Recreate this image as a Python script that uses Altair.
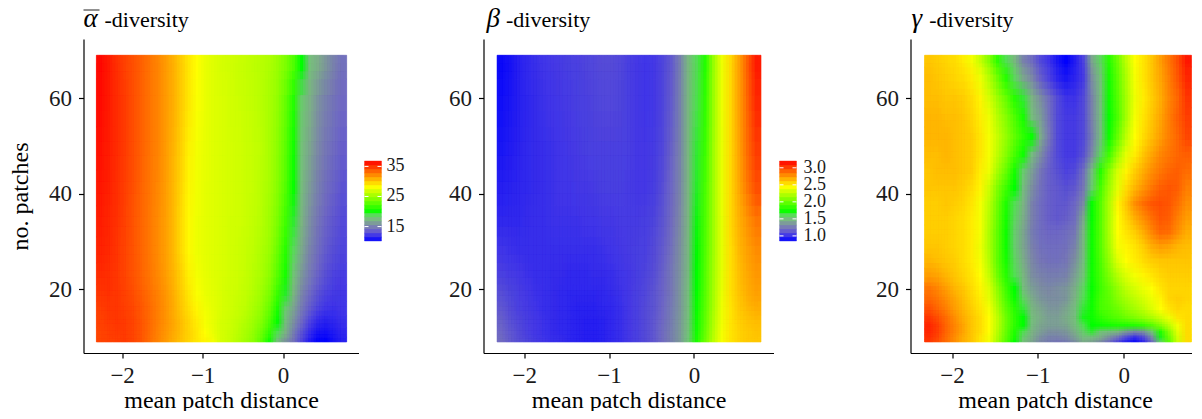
import altair as alt
import numpy as np
import pandas as pd

X_CENTERS = [-2.27,-2.17,-2.07,-1.97,-1.87,-1.77,-1.67,-1.57,-1.47,-1.37,-1.27,-1.17,-1.07,-0.97,-0.87,-0.77,-0.67,-0.57,-0.47,-0.37,-0.27,-0.17,-0.07,0.03,0.13,0.23,0.33,0.43,0.53,0.63,0.73]
N_AB = [9,11,13,16,19,23,28,34,41,49,59,69]
ALPHA = [
[34.5,34.6,34.7,34.8,34.5,34,33.2,32.4,31.7,31,30.3,29.6,29,28.5,28,27,26.6,26,25.3,24.5,23,20.5,18,16,14.5,12.8,11.3,10.4,10.3,10.9,11.4],
[34.5,34.7,34.8,34.8,34.5,34,33.3,32.5,31.8,31.1,30.4,29.7,29,28.3,27.7,27,26.6,26.1,25.5,24.7,23.5,21.5,19,17,15,13.2,11.8,10.9,10.8,11.2,11.6],
[34.6,34.8,34.9,34.8,34.5,34,33.3,32.6,31.9,31.2,30.4,29.6,28.8,28.1,27.6,27,26.7,26.3,25.8,25.1,24.2,22.5,20,17.7,15.8,14,12.6,11.7,11.4,11.6,11.9],
[34.7,34.9,34.9,34.7,34.4,33.9,33.3,32.6,31.9,31.1,30.2,29.3,28.5,27.9,27.5,27.1,26.8,26.5,26.1,25.5,24.7,23.3,20.8,18.4,16.5,14.8,13.5,12.6,12.1,12,12.1],
[35,35.1,34.9,34.6,34.2,33.7,33.1,32.5,31.8,31,30,29,28.2,27.7,27.4,27.1,26.8,26.6,26.3,25.8,25.1,24,21.8,19.4,17.3,15.4,14.1,13.2,12.6,12.3,12.2],
[35.3,35.2,34.9,34.5,34,33.5,32.9,32.3,31.6,30.8,29.8,28.7,28,27.6,27.3,27.1,26.9,26.7,26.4,26,25.5,24.6,22.8,20.6,18.2,16.1,14.8,13.8,13.1,12.6,12.4],
[35.6,35.4,35,34.5,34,33.4,32.8,32.2,31.5,30.6,29.5,28.4,27.8,27.5,27.3,27.1,26.9,26.7,26.5,26.2,25.7,25,23.4,21.2,18.8,16.7,15.3,14.3,13.5,13,12.7],
[35.8,35.5,35.1,34.6,34,33.4,32.8,32.2,31.5,30.6,29.5,28.4,27.8,27.5,27.3,27.1,26.9,26.8,26.6,26.3,25.9,25.2,23.9,22,19.3,17.2,15.7,14.6,13.8,13.3,12.9],
[36,35.7,35.2,34.7,34.1,33.5,32.9,32.3,31.6,30.7,29.6,28.5,27.9,27.5,27.3,27.1,27,26.8,26.6,26.4,26,25.4,24.3,22.6,20.1,17.7,16.2,15.1,14.3,13.7,13.2],
[36.2,35.8,35.3,34.8,34.2,33.6,33,32.4,31.7,30.8,29.8,28.7,28,27.6,27.3,27.1,27,26.8,26.6,26.4,26.1,25.5,24.5,22.9,20.5,18.1,16.6,15.5,14.7,14.1,13.6],
[36.4,35.9,35.3,34.8,34.2,33.6,33,32.4,31.7,31,30,29,28.2,27.7,27.3,27.1,26.9,26.7,26.5,26.3,26,25.5,24.7,23.2,21,18.4,17,15.9,15.1,14.5,14],
[36.5,35.9,35.2,34.6,34.1,33.6,33,32.4,31.7,30.9,30,29,28.3,27.7,27.3,27,26.8,26.6,26.4,26.2,26,25.7,25,24,22.5,19.8,18,16.9,16,15.2,14.4],
]
BETA = [
[1.2,1.14,1.10,1.07,1.04,1.02,1.0,.99,.97,.96,.95,.95,.96,.98,1.0,1.03,1.06,1.09,1.13,1.2,1.28,1.37,1.56,1.78,2.02,2.25,2.43,2.52,2.57,2.6,2.61],
[1.18,1.13,1.09,1.06,1.03,1.01,.99,.98,.97,.96,.95,.95,.96,.98,1.0,1.03,1.06,1.09,1.13,1.2,1.28,1.37,1.55,1.76,2.0,2.24,2.42,2.52,2.57,2.6,2.62],
[1.16,1.11,1.08,1.05,1.03,1.01,.99,.98,.97,.96,.95,.95,.96,.98,1.0,1.03,1.06,1.09,1.13,1.19,1.27,1.37,1.54,1.75,1.98,2.22,2.41,2.52,2.58,2.62,2.64],
[1.13,1.09,1.06,1.04,1.02,1.0,.99,.98,.97,.96,.96,.96,.97,.98,1.0,1.03,1.06,1.09,1.12,1.18,1.26,1.36,1.53,1.73,1.96,2.2,2.4,2.52,2.6,2.65,2.68],
[1.1,1.07,1.05,1.03,1.01,1.0,.99,.98,.97,.97,.97,.97,.98,.99,1.01,1.03,1.06,1.08,1.12,1.17,1.25,1.36,1.52,1.71,1.95,2.19,2.39,2.53,2.62,2.68,2.72],
[1.06,1.04,1.03,1.01,1.0,1.0,.99,.99,.98,.98,.98,.99,.99,1.0,1.02,1.03,1.05,1.07,1.1,1.16,1.24,1.35,1.5,1.7,1.94,2.18,2.38,2.53,2.63,2.7,2.75],
[1.02,1.01,1.0,1.0,1.0,1.0,1.0,1.0,1.0,1.0,1.0,1.0,1.01,1.02,1.03,1.04,1.05,1.06,1.09,1.14,1.22,1.34,1.48,1.69,1.93,2.17,2.38,2.54,2.65,2.72,2.78],
[.98,.98,.98,.99,1.0,1.0,1.01,1.01,1.01,1.01,1.02,1.02,1.03,1.03,1.04,1.04,1.04,1.05,1.07,1.12,1.2,1.32,1.47,1.68,1.92,2.17,2.38,2.55,2.67,2.76,2.84],
[.95,.96,.97,.98,.99,1.0,1.01,1.02,1.02,1.03,1.03,1.04,1.05,1.05,1.05,1.04,1.03,1.03,1.05,1.1,1.18,1.3,1.47,1.66,1.91,2.17,2.39,2.55,2.7,2.84,2.96],
[.92,.94,.96,.98,.99,1.0,1.01,1.02,1.03,1.04,1.05,1.06,1.06,1.06,1.06,1.05,1.03,1.03,1.04,1.08,1.16,1.29,1.48,1.65,1.87,2.17,2.39,2.55,2.71,2.88,3.02],
[.9,.92,.95,.97,.99,1.01,1.02,1.03,1.04,1.05,1.06,1.07,1.08,1.08,1.07,1.05,1.03,1.02,1.03,1.07,1.14,1.28,1.48,1.63,1.84,2.16,2.4,2.55,2.72,2.9,3.08],
[.88,.91,.95,.98,1.0,1.02,1.03,1.04,1.05,1.06,1.07,1.08,1.09,1.09,1.08,1.05,1.03,1.02,1.03,1.07,1.13,1.27,1.48,1.62,1.80,2.15,2.40,2.55,2.72,2.92,3.12],
]
N_G = [9,10,11,12.5,14,16,18,20,23,26,29,32,35,38,41,45,48,52,56,60,64,69]
GAMMA = [
[93,90,86,82,78,75,71,67,57,47,37,30,24,20,18,17,18,21,25,24,21,16,10,5,2,6,15,32,48,62,72],
[94,91,86,82,78,75,71,67,58,48,39,31,25,21,19,19,20,23,28,28,25,21,16,10,6,10,20,35,50,63,72],
[95,92,87,83,79,75,72,68,59,49,40,33,26,23,21,21,22,25,31,34,30,28,26,22,19,21,30,40,53,65,72],
[95,92,87,83,79,75,72,68,60,50,42,36,28,24,23,23,24,28,33,36,38,39,40,40,41,43,47,53,60,67,72],
[93,90,86,82,78,75,72,68,60,50,42,36,29,25,23,23,25,29,35,38,42,45,47,50,52,55,58,62,66,71,72],
[90,87,84,80,77,74,71,67,58,48,41,34,27,24,22,22,24,28,34,38,45,47,50,54,57,60,64,68,71,73,72],
[87,85,82,79,76,73,70,65,56,46,38,32,25,22,21,21,22,26,33,38,45,48,53,57,60,63,66,69,73,74,73],
[85,83,80,77,75,72,69,64,54,44,36,29,23,21,20,21,22,25,32,37,44,49,55,60,63,66,68,71,73,73,73],
[80,79,77,75,73,71,68,61,50,41,33,27,21,19,18,18,19,23,30,38,45,52,59,64,67,69,71,73,74,74,74],
[77,76,75,74,72,70,67,59,48,39,32,25,20,17,16,16,17,21,28,38,46,55,64,68,70,72,74,75,75,75,75],
[75,75,74,73,72,70,66,58,48,38,31,24,19,16,15,15,16,19,27,38,47,57,67,69,71,74,78,80,79,77,76],
[74,74,74,73,72,70,67,58,48,38,31,24,18,15,14,14,15,17,26,38,47,58,68,71,74,78,83,87,86,82,78],
[74,74,74,73,72,70,67,59,49,39,32,25,19,15,13,12,13,15,24,37,47,58,68,73,78,82,86,89,88,84,80],
[74,74,75,74,73,71,67,60,50,40,33,26,19,15,13,12,12,14,20,37,47,58,69,75,82,86,89,90,89,86,82],
[75,75,75,75,74,72,69,62,52,44,36,28,21,16,13,12,11,12,17,31,45,56,65,72,77,81,85,88,89,88,84],
[75,76,76,76,75,74,70,66,57,49,39,31,23,17,13,11,9,10,15,28,41,53,63,69,74,78,82,85,87,88,86],
[76,76,77,76,75,74,71,67,60,53,45,38,28,21,14,10,8,8,11,20,32,44,56,65,70,75,79,83,85,87,88],
[77,77,77,76,75,74,71,67,61,55,48,42,37,25,17,10,8,8,10,18,28,38,49,60,68,72,76,80,84,87,91],
[77,77,76,76,75,73,70,66,59,53,46,39,29,23,16,10,8,8,10,19,28,37,46,57,67,71,75,79,84,88,92],
[76,76,75,75,74,72,69,63,56,49,41,34,26,21,15,10,7,7,10,19,29,38,47,57,66,70,74,78,83,87,93],
[76,75,74,73,72,70,66,59,50,41,32,24,20,13,9,5,3,5,8,21,30,39,48,58,67,71,75,79,84,89,95],
[75,74,73,72,70,67,61,53,42,33,27,19,15,10,7,3,0,4,9,24,32,41,50,60,68,71,75,80,85,90,97],
]
ALPHA_RANGE = [10.2,36.8]
BETA_RANGE = [0.85,3.2]
GAMMA_RANGE = [0,100]
RAMP_AT = [0,.07,.14,.2,.26,.30,.33,.36,.68,1]
COLOURS = ["#0000ff","#4035ea","#7068c6","#7d8aa8","#7db585","#75c47a","#55e055","#00ff00","#ffff00","#ff0000"]
ALPHA_TICKS = [15,25,35]
BETA_TICKS = [1.0,1.5,2.0,2.5,3.0]
X_TICKS = [-2,-1,0]
Y_TICKS = [20,40,60]
X_TITLE = "mean patch distance"
Y_TITLE = "no. patches"
FONT = "Liberation Serif"

XDOM = [-2.48,0.937]
XDOM_G = [-2.484,0.884]
YDOM = [6.7,72.4]
H = 314
SHIFTS = [(0,0),(-1/3,0),(1/3,0),(0,-1/3),(0,1/3),(-1/3,-1/3),(1/3,1/3),(-1/3,1/3),(1/3,-1/3)]

def colour_scale(rng):
    lo, hi = rng
    return alt.Scale(domain=[lo+t*(hi-lo) for t in RAMP_AT], range=COLOURS, interpolate="rgb")

def edges(c, lo, hi):
    c = np.array(c, float)
    mid = (c[1:]+c[:-1])/2
    return np.concatenate([[lo], mid, [hi]])

def shifted(e, f):
    idx = np.arange(len(e)) + f
    return np.interp(idx, np.arange(len(e)), e)

def grid(rows, ns, fx, fy):
    xe = shifted(edges(X_CENTERS, -2.32, 0.79), fx)
    ye = shifted(edges(ns, 9, 69), fy)
    recs = []
    for j, row in enumerate(rows):
        assert len(row) == len(X_CENTERS)
        for i, v in enumerate(row):
            recs.append(dict(x0=round(xe[i],4),x1=round(xe[i+1],4),y0=round(ye[j],3),y1=round(ye[j+1],3),v=v))
    return pd.DataFrame(recs)

def panel(rows, ns, rng, w, sym, tx, dx, show_y, xdom, bar=False):
    cs = colour_scale(rng)
    xs = alt.Scale(domain=xdom, nice=False, zero=False)
    ys = alt.Scale(domain=YDOM, nice=False, zero=False)
    xax = alt.Axis(values=X_TICKS, title=X_TITLE, grid=False, format=".0f", tickColor="black", domainColor="black",
                   domainWidth=1.2, tickWidth=1.2, tickSize=5, labelFont=FONT, labelFontSize=23, labelColor="#1a1a1a",
                   titleFont=FONT, titleFontSize=24, titleFontWeight="normal", titleColor="black", labelPadding=6, titlePadding=1)
    yax = alt.Axis(values=Y_TICKS, title=Y_TITLE if show_y else "", grid=False, tickColor="black", domainColor="black",
                   domainWidth=1.2, tickWidth=1.2, tickSize=5, labelFont=FONT, labelFontSize=23, labelColor="#1a1a1a",
                   titleFont=FONT, titleFontSize=24, titleFontWeight="normal", titleColor="black", labelPadding=7, titlePadding=16)
    layers = []
    for k, (fx, fy) in enumerate(SHIFTS):
        df = grid(rows, ns, fx, fy)
        if k == 0:
            layers.append(alt.Chart(df).mark_rect(strokeWidth=0.6).encode(
                x=alt.X("x0:Q", scale=xs, axis=xax), x2="x1:Q",
                y=alt.Y("y0:Q", scale=ys, axis=yax), y2="y1:Q",
                color=alt.Color("v:Q", scale=cs, legend=None),
                stroke=alt.Stroke("v:Q", scale=cs, legend=None)))
        else:
            layers.append(alt.Chart(df).mark_rect(opacity=1/(k+1), strokeWidth=0).encode(
                x=alt.X("x0:Q", scale=xs, axis=xax), x2="x1:Q",
                y=alt.Y("y0:Q", scale=ys, axis=yax), y2="y1:Q",
                color=alt.Color("v:Q", scale=cs, legend=None)))
    t1 = alt.Chart(pd.DataFrame({"s":[sym]})).mark_text(font=FONT, fontSize=27, fontStyle="italic", align="left", baseline="alphabetic", color="black").encode(
        x=alt.value(tx), y=alt.value(-12), text="s:N")
    t2 = alt.Chart(pd.DataFrame({"s":["-diversity"]})).mark_text(font=FONT, fontSize=22, align="left", baseline="alphabetic", color="black").encode(
        x=alt.value(dx), y=alt.value(-12), text="s:N")
    layers += [t1, t2]
    if bar:
        layers.append(alt.Chart(pd.DataFrame({"s":[0]})).mark_rule(color="#222222", strokeWidth=1).encode(
            x=alt.value(0), x2=alt.value(16), y=alt.value(-29)))
    return alt.layer(*layers).properties(width=w, height=H)

def legend(rng, ticks, w, lx, fmt):
    lo, hi = rng
    e = np.linspace(lo, hi, 21)
    df = pd.DataFrame({"a":e[:-1],"b":e[1:],"v":(e[:-1]+e[1:])/2})
    ys = alt.Scale(domain=[lo,hi], range=[202,122], nice=False, zero=False)
    cs = colour_scale(rng)
    bars = alt.Chart(df).mark_rect(strokeWidth=0.4).encode(
        x=alt.value(0), x2=alt.value(17),
        y=alt.Y("a:Q", scale=ys, axis=None), y2="b:Q",
        color=alt.Color("v:Q", scale=cs, legend=None),
        stroke=alt.Stroke("v:Q", scale=cs, legend=None))
    tk = pd.DataFrame({"t":ticks,"l":[format(t,fmt) for t in ticks]})
    r1 = alt.Chart(tk).mark_rule(color="white", strokeWidth=1).encode(x=alt.value(0), x2=alt.value(4), y=alt.Y("t:Q", scale=ys, axis=None))
    r2 = alt.Chart(tk).mark_rule(color="white", strokeWidth=1).encode(x=alt.value(13), x2=alt.value(17), y=alt.Y("t:Q", scale=ys, axis=None))
    lab = alt.Chart(tk).mark_text(font=FONT, fontSize=18, align="left", baseline="middle", color="#1a1a1a").encode(
        x=alt.value(lx), y=alt.Y("t:Q", scale=ys, axis=None), text="l:N")
    return alt.layer(bars, r1, r2, lab).properties(width=w, height=H)

p1 = panel(ALPHA, N_AB, ALPHA_RANGE, 275, "\u03b1", 0, 21, True, XDOM, bar=True)
l1 = legend(ALPHA_RANGE, ALPHA_TICKS, 113, 22, ".0f")
p2 = panel(BETA, N_AB, BETA_RANGE, 290, "\u03b2", 3, 22.5, False, XDOM)
l2 = legend(BETA_RANGE, BETA_TICKS, 125, 24, ".1f")
p3 = panel(GAMMA, N_G, GAMMA_RANGE, 289, "\u03b3", 1, 18.7, False, XDOM_G)

chart = alt.hconcat(p1, l1, p2, l2, p3, spacing=6, bounds="flush").resolve_scale(color="independent", stroke="independent").properties(
    padding={"left":0.5,"top":-3,"right":-8,"bottom":-1}, background="white"
).configure_view(stroke=None)

chart.save("out.html", embed_options={"renderer": "svg", "actions": False})
